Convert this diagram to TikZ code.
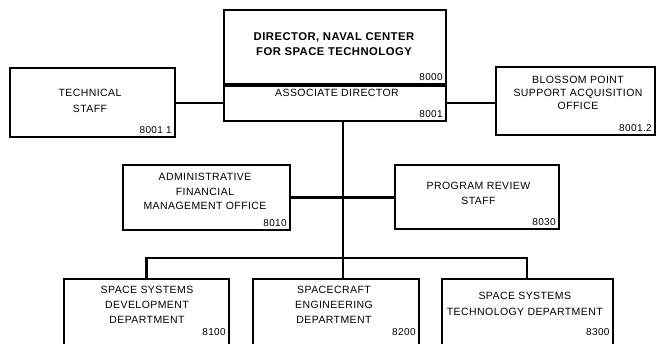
\documentclass[tikz,border=0pt]{standalone}
\usepackage{fontspec}
\setmainfont{Liberation Sans}[LetterSpace=4]
\usetikzlibrary{positioning}

\begin{document}
\begin{tikzpicture}[
    x=1pt, y=-1pt,
    box/.style={rectangle, draw, line width=1.9pt, inner sep=0pt},
    txt/.style={align=center, inner sep=0pt, font=\fontsize{10.5}{15}\selectfont},
    num/.style={anchor=south east, inner sep=4pt, font=\fontsize{10}{12}\selectfont},
    link/.style={line width=2.2pt}
]
\useasboundingbox (0,0) rectangle (656,344);
\clip (0,0) rectangle (656,344);

% Director
\node[box, minimum width=222pt, minimum height=74pt] (dir) at (335,47) {};
\node[txt, font=\bfseries\fontsize{11.3}{15}\selectfont] (dirtxt) at (334,44) {DIRECTOR, NAVAL CENTER\\FOR SPACE TECHNOLOGY};
\node[num] (dirnum) at (dir.south east) {8000};
\node[box, minimum width=222pt, minimum height=35pt, below=0pt of dir] (assoc) {};
\node[txt] (assoctxt) at (337,92.5) {ASSOCIATE DIRECTOR};
\node[num] (assocnum) at (assoc.south east) {8001};

% Staff offices
\node[box, minimum width=165pt, minimum height=69pt] (tech) at (92.5,102.5) {};
\node[txt, font=\fontsize{10.5}{16}\selectfont] (techtxt) at (90,100.7) {TECHNICAL\\STAFF};
\node[num] (technum) at (tech.south east) {8001 1};

\node[box, minimum width=159pt, minimum height=68pt] (blossom) at (575.5,101) {};
\node[txt, font=\fontsize{10.5}{13}\selectfont] (blossomtxt) at (578,93) {BLOSSOM POINT\\SUPPORT ACQUISITION\\OFFICE};
\node[num] (blossomnum) at (blossom.south east) {8001.2};

\node[box, minimum width=167pt, minimum height=65pt] (admin) at (206.5,197.5) {};
\node[txt, font=\fontsize{10.5}{14.5}\selectfont] (admintxt) at (205,191.5) {ADMINISTRATIVE\\FINANCIAL\\MANAGEMENT OFFICE};
\node[num] (adminnum) at (admin.south east) {8010};

\node[box, minimum width=164pt, minimum height=64pt] (program) at (477,197) {};
\node[txt] (programtxt) at (478.5,193.7) {PROGRAM REVIEW\\STAFF};
\node[num] (programnum) at (program.south east) {8030};

% Departments
\node[box, minimum width=165pt, minimum height=70pt] (ssd) at (146.5,314) {};
\node[box, minimum width=166pt, minimum height=70pt, right=22pt of ssd] (sce) {};
\node[box, minimum width=171pt, minimum height=70pt, right=21pt of sce] (sst) {};
\node[txt] (ssdtxt) at (147,304.5) {SPACE SYSTEMS\\DEVELOPMENT\\DEPARTMENT};
\node[txt] (scetxt) at (334,304.5) {SPACECRAFT\\ENGINEERING\\DEPARTMENT};
\node[txt, font=\fontsize{10.5}{15.7}\selectfont] (ssttxt) at (524.8,303.8) {SPACE SYSTEMS\\TECHNOLOGY DEPARTMENT};
\node[num] (ssdnum) at ([yshift=-62pt]ssd.north east) {8100};
\node[num] (scenum) at ([yshift=-62pt]sce.north east) {8200};
\node[num] (sstnum) at ([yshift=-62pt]sst.north east) {8300};

% Lines
\coordinate (trunk) at ([xshift=8pt]assoc.south);
\coordinate (bus) at (343,258);
\draw[link] (assoc.west) -- (tech.east |- assoc.west);
\draw[link] (assoc.east) -- (blossom.west |- assoc.east);
\draw[link] (trunk) -- (trunk |- sce.north);
\draw[link] (admin.east) -- (admin.east -| program.west);
\draw[link] (ssd.north) |- (bus) -| (sst.north);

\end{tikzpicture}
\end{document}
